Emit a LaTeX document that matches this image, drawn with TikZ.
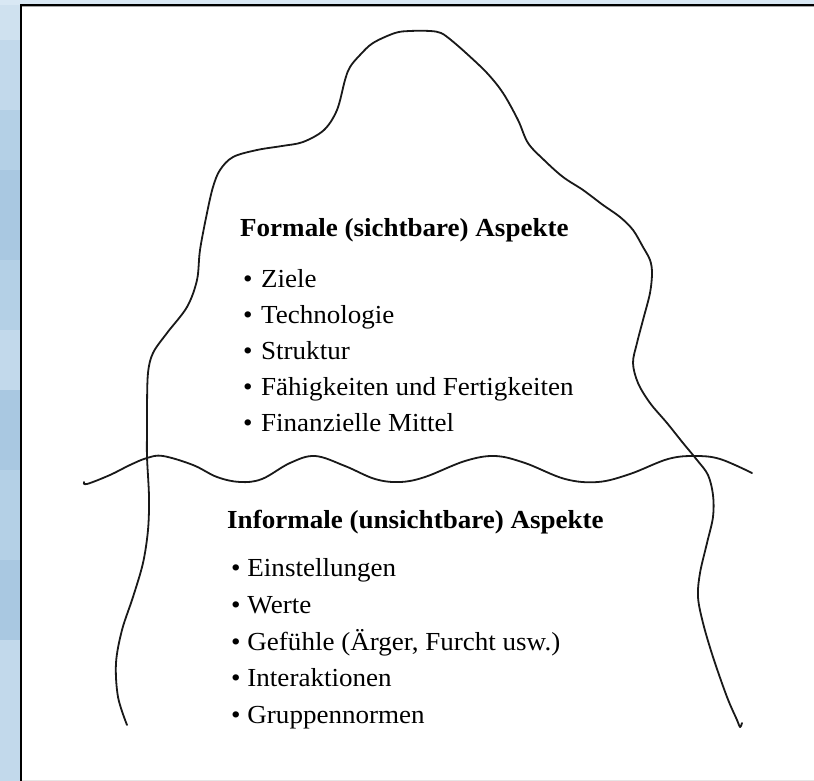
\documentclass[tikz,border=0pt]{standalone}
\usepackage{fontspec}
\setmainfont[FakeStretch=1.04]{Liberation Serif}
\definecolor{bgblue}{HTML}{CFE1EF}
\definecolor{bgblueA}{HTML}{B4D0E6}
\definecolor{bgblueB}{HTML}{A9C8E1}
\definecolor{bgblueC}{HTML}{C2D9EB}
\definecolor{bgtop}{HTML}{D9E8F4}
\tikzset{
  hd/.style={anchor=base west, inner sep=0pt, font=\fontsize{26}{30}\selectfont\bfseries},
  itm/.style={anchor=base west, inner sep=0pt, font=\fontsize{26}{30}\selectfont},
  berg/.style={line width=1.8pt, line join=round, line cap=round, black!90},
}
\begin{document}
\begin{tikzpicture}[x=1pt,y=-1pt]
\useasboundingbox (0,0) rectangle (814,781);
% background
\fill[bgblue] (0,0) rectangle (814,781);
\fill[bgtop] (0,0) rectangle (814,5);
\fill[bgblueC] (0,40) rectangle (20,110);
\fill[bgblueA] (0,110) rectangle (20,170);
\fill[bgblueB] (0,170) rectangle (20,260);
\fill[bgblueA] (0,260) rectangle (20,330);
\fill[bgblueC] (0,330) rectangle (20,390);
\fill[bgblueB] (0,390) rectangle (20,470);
\fill[bgblueA] (0,470) rectangle (20,560);
\fill[bgblueB] (0,560) rectangle (20,640);
\fill[bgblueC] (0,640) rectangle (20,781);
% frame
\fill[white] (20,4) rectangle (814,781);
\draw[gray!20, line width=1pt] (22,780) -- (814,780);
\draw[gray!70, line width=1pt] (22,6.8) -- (814,6.8);
\draw[black, line width=2pt] (21,781) -- (21,5) -- (814,5);
% iceberg outline
\draw[berg] plot[smooth, tension=0.55] coordinates {
 (127,725) (118,697) (116,663) (122,630) (133,597) (143,563) (148,530)
 (149,497) (147,457) (147,430) (147,407) (148,373) (153,353) (167,333)
 (187,307) (197,280) (200,250) (207,213) (213,187) (220,170) (233,157)
 (257,150) (282,146) (303,142) (324,130) (337,110) (345,80) (350,67)
 (360,55) (373,43) (395,33) (410,31) (430,31) (441,33) (451,40) (466,53)
 (487,73) (503,93) (518,120) (528,143) (544,160) (563,177) (583,190)
 (603,205) (620,217) (633,230) (643,247) (650,260) (652,273) (650,293)
 (643,320) (637,343) (633,363) (638,383) (650,403) (667,423) (683,443)
 (697,460) (708,475) (713,495) (713,517) (707,543) (700,573) (698,597)
 (703,623) (713,657) (727,697) (737,720) (740,727) (742,723)};
% water line
\draw[berg] plot[smooth, tension=0.6] coordinates {
 (84,482) (87,484) (110,475) (130,465) (147,458) (163,456) (193,465) (217,477)
 (240,482) (262,479) (290,463) (315,456) (345,466) (375,479) (400,482)
 (425,477) (465,461) (495,456) (525,463) (565,479) (598,482) (630,474)
 (668,459) (695,456) (720,459) (752,473)};
% texts
\node[hd] (h1) at (240,236) {Formale (sichtbare) Aspekte};
\node[itm] (f1) at (243,287) {•\hspace{8.5pt}Ziele};
\node[itm] (f2) at (243,323) {•\hspace{8.5pt}Technologie};
\node[itm] (f3) at (243,359) {•\hspace{8.5pt}Struktur};
\node[itm] (f4) at (243,395) {•\hspace{8.5pt}Fähigkeiten und Fertigkeiten};
\node[itm] (f5) at (243,431) {•\hspace{8.5pt}Finanzielle Mittel};
\node[hd] (h2) at (227,528) {Informale (unsichtbare) Aspekte};
\node[itm] (i1) at (231,576) {•\hspace{6.8pt}Einstellungen};
\node[itm] (i2) at (231,613) {•\hspace{6.8pt}Werte};
\node[itm] (i3) at (231,650) {•\hspace{6.8pt}Gefühle (Ärger, Furcht usw.)};
\node[itm] (i4) at (231,686) {•\hspace{6.8pt}Interaktionen};
\node[itm] (i5) at (231,723) {•\hspace{6.8pt}Gruppennormen};
\end{tikzpicture}
\end{document}
